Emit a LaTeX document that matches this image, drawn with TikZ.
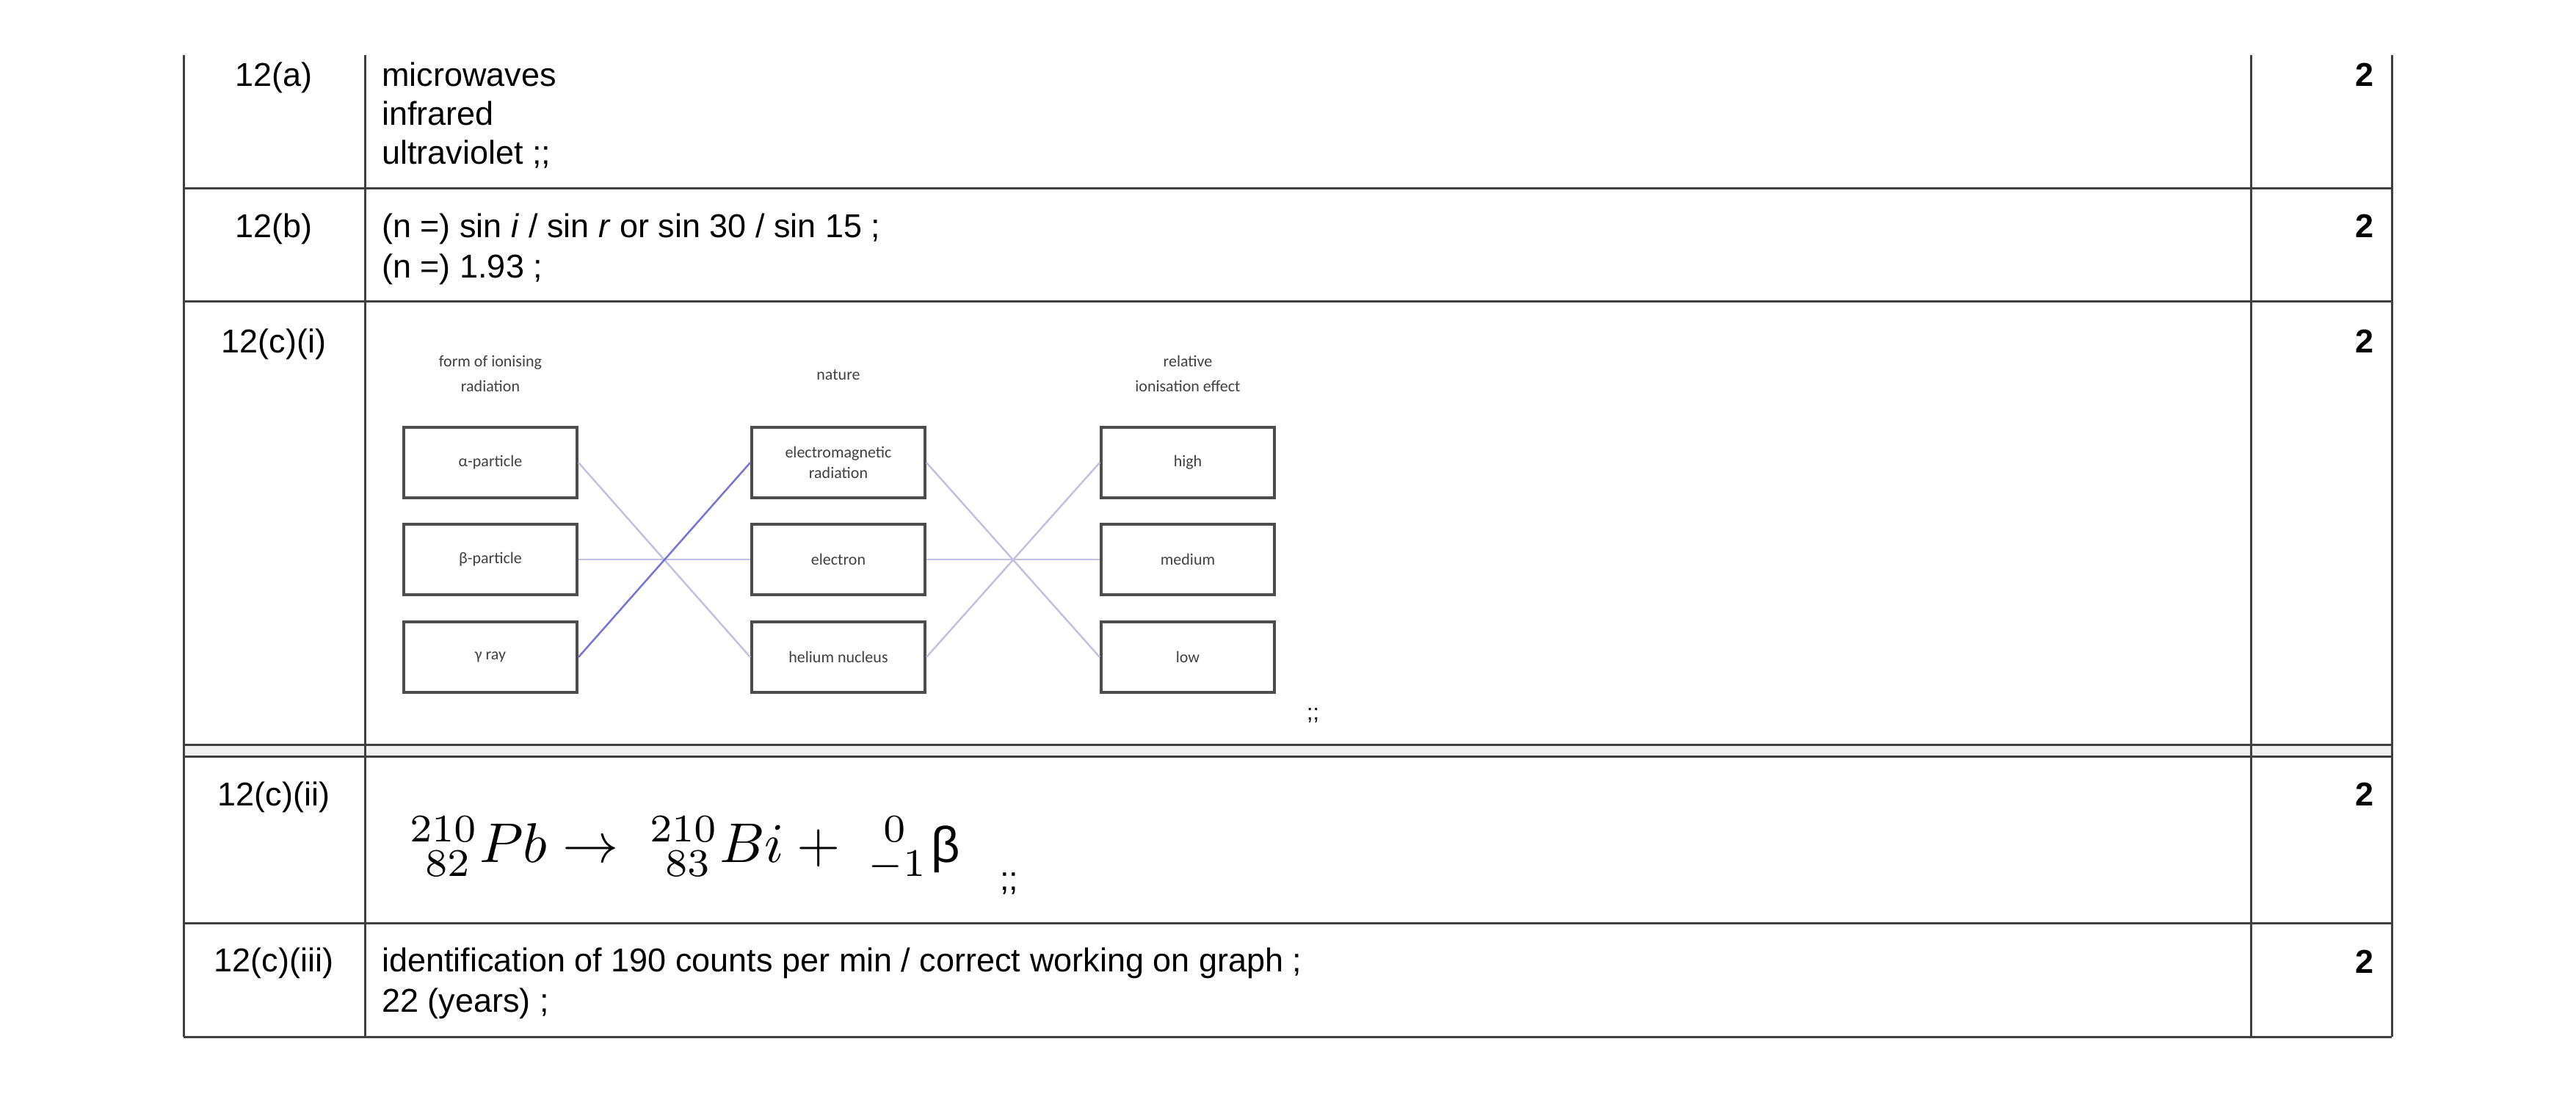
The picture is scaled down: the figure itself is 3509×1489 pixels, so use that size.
\documentclass[tikz,border=0pt]{standalone}
\usepackage{fontspec}
\setmainfont{Liberation Sans}
\newfontfamily\smallf{Carlito}
\begin{document}
\begin{tikzpicture}[x=1pt,y=-1pt,
  tl/.style={line width=3pt,draw=black!75},
  txt/.style={anchor=base west,inner sep=0,font=\fontsize{45}{53}\selectfont},
  lab/.style={anchor=base,inner sep=0,font=\fontsize{45}{53}\selectfont},
  mk/.style={anchor=base east,inner sep=0,font=\fontsize{45}{53}\selectfont\bfseries},
  box/.style={draw=black!70,line width=4pt,minimum width=236pt,minimum height=96pt,inner sep=0,align=center,font=\smallf\fontsize{22}{28}\selectfont,text=black!75},
  hd/.style={inner sep=0,align=center,font=\smallf\fontsize{22}{34}\selectfont,text=black!75},
  cn/.style={draw=blue!40!gray!35,line width=2.5pt},
  cnd/.style={draw=blue!55!gray!70,line width=2.5pt}]
\useasboundingbox (0,0) rectangle (3509,1489);
% table
\fill[black!6] (250,1014) rectangle (3258,1030);
\draw[tl] (250,75) -- (250,1412);
\draw[tl] (497,75) -- (497,1412);
\draw[tl] (3066,75) -- (3066,1412);
\draw[tl] (3258,75) -- (3258,1412);
\foreach \yy in {256,410,1014,1030,1257,1412} \draw[tl] (250,\yy) -- (3258,\yy);
% labels
\node[lab] (la) at (373,117) {12(a)};
\node[lab] (lb) at (373,323) {12(b)};
\node[lab] (lci) at (373,480) {12(c)(i)};
\node[lab] (lcii) at (373,1097) {12(c)(ii)};
\node[lab] (lciii) at (373,1323) {12(c)(iii)};
% marks
\foreach \yy/\nm in {117/ma,323/mb,480/mci,1097/mcii,1325/mciii} \node[mk] (\nm) at (3234,\yy) {2};
% text
\node[txt] (a1) at (520,117) {microwaves};
\node[txt] (a2) at (520,170) {infrared};
\node[txt] (a3) at (520,223) {ultraviolet ;;};
\node[txt] (b1) at (520,323) {(n =) sin \textit{i} / sin \textit{r} or sin 30 / sin 15 ;};
\node[txt] (b2) at (520,378) {(n =) 1.93 ;};
\node[txt] (c1) at (520,1323) {identification of 190 counts per min / correct working on graph ;};
\node[txt] (c2) at (520,1378) {22 (years) ;};
% equation
\node[anchor=south west,inner sep=0] (eq) at (558,1200)
  {\resizebox{750pt}{!}{$^{210}_{\ 82}Pb \rightarrow\ ^{210}_{\ 83}Bi +\ ^{\ 0}_{-1}$\hspace{0.6pt}\mbox{\fontsize{9}{10}\selectfont β}}};
\node[txt] (sc2) at (1362,1212) {;;};
% matching diagram
\node[hd] (h1) at (668,509) {form of ionising\\radiation};
\node[hd] (h2) at (1142,511) {nature};
\node[hd] (h3) at (1618,509) {relative\\ionisation effect};
\node[box] (alpha) at (668,630) {α-particle};
\node[box] (beta) at (668,762) {β-particle};
\node[box] (gamma) at (668,895) {γ ray};
\node[box] (em) at (1142,630) {electromagnetic\\radiation};
\node[box] (el) at (1142,762) {electron};
\node[box] (he) at (1142,895) {helium nucleus};
\node[box] (hi) at (1618,630) {high};
\node[box] (me) at (1618,762) {medium};
\node[box] (lo) at (1618,895) {low};
\draw[cn] (alpha.east) -- (he.west);
\draw[cn] (beta.east) -- (el.west);
\draw[cnd] (gamma.east) -- (em.west);
\draw[cn] (em.east) -- (lo.west);
\draw[cn] (el.east) -- (me.west);
\draw[cn] (he.east) -- (hi.west);
\node[txt,font=\fontsize{30}{34}\selectfont] (sc1) at (1780,980) {;;};
\end{tikzpicture}
\end{document}
